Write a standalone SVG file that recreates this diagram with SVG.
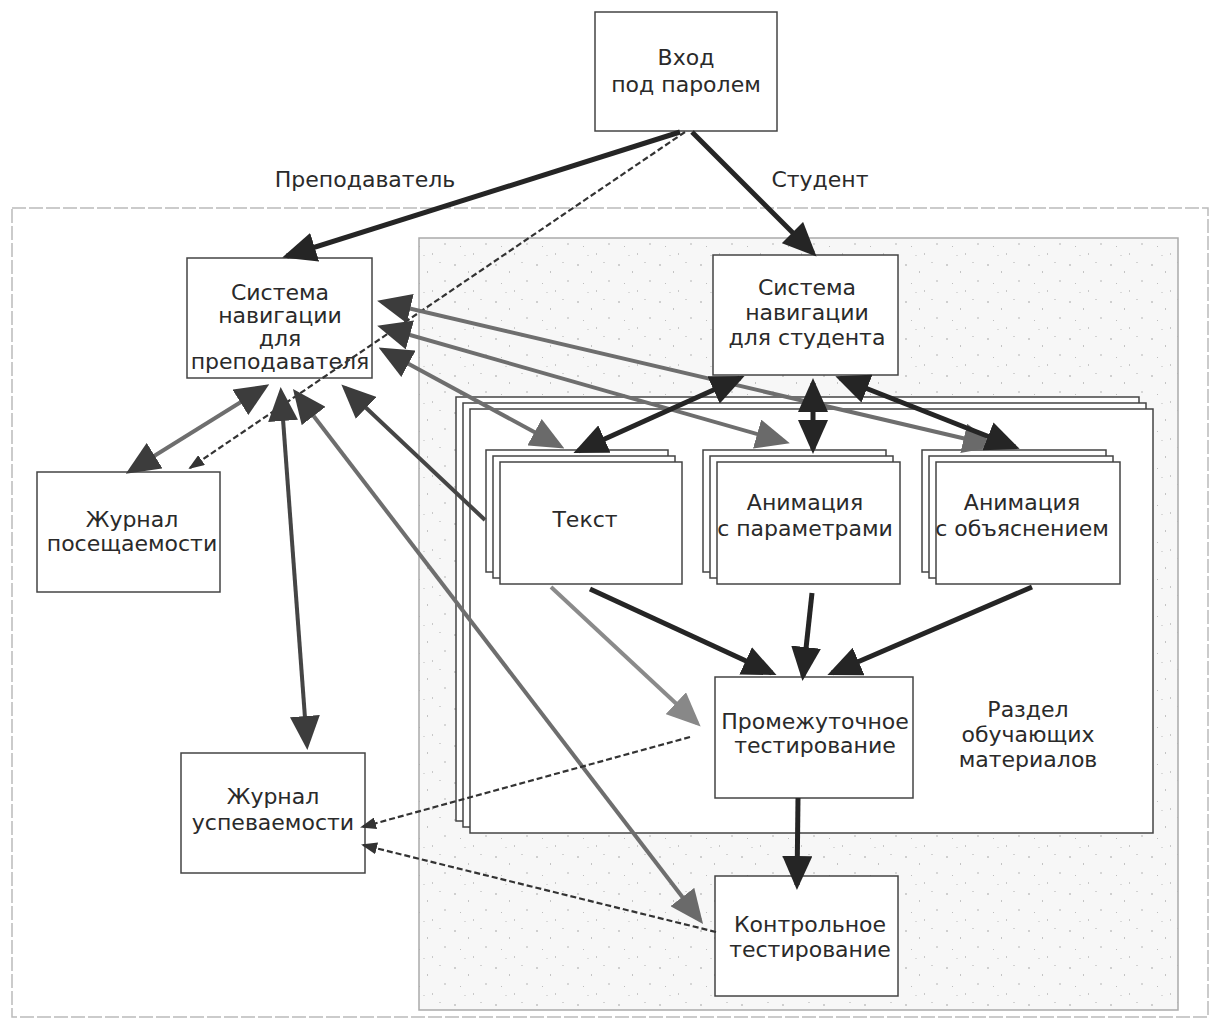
<svg xmlns="http://www.w3.org/2000/svg" width="1211" height="1027" viewBox="0 0 1211 1027">
<style>
.box{fill:#fff;stroke:#444;stroke-width:1.5}
.frame{fill:none;stroke:#bbb;stroke-width:1.5;stroke-dasharray:14 3}
.t{font-family:"DejaVu Sans",Verdana,sans-serif;font-size:22px;fill:#2a2a2a;text-anchor:middle}
.dk{stroke:#252525;stroke-width:5;fill:none}
.md{stroke:#454545;stroke-width:4;fill:none}
.gr{stroke:#6e6e6e;stroke-width:4;fill:none}
.lg{stroke:#8a8a8a;stroke-width:4;fill:none}
.ds{stroke:#333;stroke-width:2.2;stroke-dasharray:6 3;fill:none}
</style>
<defs>
<pattern id="spk" width="41" height="37" patternUnits="userSpaceOnUse">
<rect width="41" height="37" fill="#f7f7f7"/>
<rect x="3" y="5" width="2" height="2" fill="#cfcfcf"/>
<rect x="17" y="12" width="1" height="2" fill="#c4c4c4"/>
<rect x="29" y="3" width="2" height="1" fill="#d2d2d2"/>
<rect x="9" y="24" width="1" height="1" fill="#bdbdbd"/>
<rect x="34" y="21" width="2" height="2" fill="#d6d6d6"/>
<rect x="22" y="31" width="1" height="2" fill="#c9c9c9"/>
<rect x="13" y="33" width="2" height="1" fill="#d9d9d9"/>
</pattern>
<marker id="hd" viewBox="0 0 34 30" refX="29" refY="15" markerWidth="34" markerHeight="30" orient="auto-start-reverse" markerUnits="userSpaceOnUse"><path d="M0,0 L34,15 L0,30 z" fill="#252525"/></marker>
<marker id="hm" viewBox="0 0 34 30" refX="29" refY="15" markerWidth="34" markerHeight="30" orient="auto-start-reverse" markerUnits="userSpaceOnUse"><path d="M0,0 L34,15 L0,30 z" fill="#3c3c3c"/></marker>
<marker id="hg" viewBox="0 0 34 30" refX="29" refY="15" markerWidth="34" markerHeight="30" orient="auto-start-reverse" markerUnits="userSpaceOnUse"><path d="M0,0 L34,15 L0,30 z" fill="#6a6a6a"/></marker>
<marker id="hl" viewBox="0 0 34 30" refX="29" refY="15" markerWidth="34" markerHeight="30" orient="auto-start-reverse" markerUnits="userSpaceOnUse"><path d="M0,0 L34,15 L0,30 z" fill="#888"/></marker>
<marker id="hs" viewBox="0 0 16 12" refX="14" refY="6" markerWidth="16" markerHeight="12" orient="auto" markerUnits="userSpaceOnUse"><path d="M0,0 L16,6 L0,12 z" fill="#333"/></marker>
</defs>
<rect width="1211" height="1027" fill="#fff"/>

<g id="teacher-area"><rect x="12" y="208" width="1196" height="809" class="frame"/></g>
<g id="student-area"><rect x="419" y="238" width="759" height="772" fill="url(#spk)" stroke="#aaa" stroke-width="1.5"/></g>

<g id="vhod"><rect class="box" x="595" y="12" width="182" height="119"/>
<text class="t" x="686" y="65">Вход</text><text class="t" x="686" y="92">под паролем</text></g>

<g id="label-prep"><text class="t" x="365" y="187">Преподаватель</text></g>
<g id="label-stud"><text class="t" x="820" y="187">Студент</text></g>

<g id="nav-prep"><rect class="box" x="187" y="258" width="185" height="120"/>
<text class="t" x="280" y="300">Система</text><text class="t" x="280" y="323">навигации</text><text class="t" x="280" y="346">для</text><text class="t" x="280" y="369">преподавателя</text></g>

<g id="nav-stud"><rect class="box" x="713" y="255" width="185" height="120"/>
<text class="t" x="807" y="295">Система</text><text class="t" x="807" y="320">навигации</text><text class="t" x="807" y="345">для студента</text></g>

<g id="razdel"><rect class="box" x="456" y="397" width="683" height="424"/><rect class="box" x="463" y="403" width="683" height="424"/><rect class="box" x="470" y="409" width="683" height="424"/>
<text class="t" x="1028" y="717">Раздел</text><text class="t" x="1028" y="742">обучающих</text><text class="t" x="1028" y="767">материалов</text></g>

<g id="tekst"><rect class="box" x="486" y="450" width="182" height="122"/><rect class="box" x="493" y="456" width="182" height="122"/><rect class="box" x="500" y="462" width="182" height="122"/>
<text class="t" x="585" y="527">Текст</text></g>

<g id="anim-param"><rect class="box" x="703" y="450" width="183" height="122"/><rect class="box" x="710" y="456" width="183" height="122"/><rect class="box" x="717" y="462" width="183" height="122"/>
<text class="t" x="805" y="510">Анимация</text><text class="t" x="805" y="536">с параметрами</text></g>

<g id="anim-obj"><rect class="box" x="922" y="450" width="184" height="122"/><rect class="box" x="929" y="456" width="184" height="122"/><rect class="box" x="936" y="462" width="184" height="122"/>
<text class="t" x="1022" y="510">Анимация</text><text class="t" x="1022" y="536">с объяснением</text></g>

<g id="prom"><rect class="box" x="715" y="677" width="198" height="121"/>
<text class="t" x="815" y="729">Промежуточное</text><text class="t" x="815" y="753">тестирование</text></g>

<g id="kontr"><rect class="box" x="715" y="876" width="183" height="120"/>
<text class="t" x="810" y="932">Контрольное</text><text class="t" x="810" y="957">тестирование</text></g>

<g id="zhurnal-pos"><rect class="box" x="37" y="472" width="183" height="120"/>
<text class="t" x="132" y="527">Журнал</text><text class="t" x="132" y="551">посещаемости</text></g>

<g id="zhurnal-usp"><rect class="box" x="181" y="753" width="184" height="120"/>
<text class="t" x="273" y="804">Журнал</text><text class="t" x="273" y="830">успеваемости</text></g>

<g id="connectors">
<line class="dk" x1="680" y1="132" x2="287" y2="256" marker-end="url(#hd)"/>
<line class="dk" x1="692" y1="132" x2="813" y2="253" marker-end="url(#hd)"/>
<line class="ds" x1="685" y1="132" x2="190" y2="468" marker-end="url(#hs)"/>
<line class="gr" x1="265" y1="387" x2="130" y2="471" marker-start="url(#hm)" marker-end="url(#hm)"/>
<line class="md" x1="281" y1="392" x2="307" y2="745" marker-start="url(#hm)" marker-end="url(#hm)"/>
<line class="gr" x1="296" y1="393" x2="700" y2="920" marker-start="url(#hm)" marker-end="url(#hg)"/>
<line class="md" x1="485" y1="520" x2="345" y2="388" marker-end="url(#hm)"/>
<line class="gr" x1="382" y1="302" x2="992" y2="445" marker-start="url(#hm)" marker-end="url(#hg)"/>
<line class="gr" x1="382" y1="327" x2="785" y2="442" marker-start="url(#hm)" marker-end="url(#hg)"/>
<line class="gr" x1="383" y1="350" x2="560" y2="446" marker-start="url(#hm)" marker-end="url(#hg)"/>
<line class="dk" x1="740" y1="378" x2="578" y2="451" marker-start="url(#hd)" marker-end="url(#hd)"/>
<line class="dk" x1="813" y1="383" x2="813" y2="449" marker-start="url(#hd)" marker-end="url(#hd)"/>
<line class="dk" x1="840" y1="378" x2="1015" y2="447" marker-start="url(#hd)" marker-end="url(#hd)"/>
<line class="dk" x1="590" y1="589" x2="772" y2="673" marker-end="url(#hd)"/>
<line class="dk" x1="812" y1="593" x2="803" y2="676" marker-end="url(#hd)"/>
<line class="dk" x1="1032" y1="587" x2="832" y2="673" marker-end="url(#hd)"/>
<line class="lg" x1="551" y1="587" x2="697" y2="723" marker-end="url(#hl)"/>
<line class="ds" x1="690" y1="737" x2="362" y2="827" marker-end="url(#hs)"/>
<line class="ds" x1="716" y1="932" x2="363" y2="845" marker-end="url(#hs)"/>
<line class="dk" x1="798" y1="798" x2="797" y2="885" marker-end="url(#hd)"/>
</g>
</svg>
